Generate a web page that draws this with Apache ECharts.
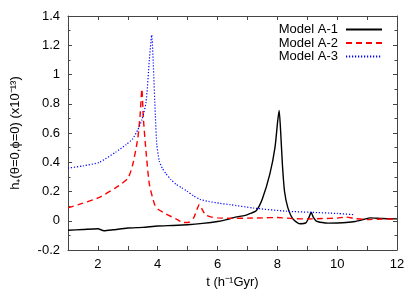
<!DOCTYPE html>
<html><head><meta charset="utf-8">
<script src="https://cdn.jsdelivr.net/npm/echarts@6/dist/echarts.min.js"></script>
<style>html,body{margin:0;padding:0;background:#fff}#c{width:420px;height:294px}</style>
</head><body><div id="c"></div>
<script>
// Model A-1 (black, solid)
const tA1 = [1, 1.5, 2, 2.2, 2.5, 3, 3.5, 4, 4.5, 5, 5.5, 6, 6.3, 6.6, 6.9, 7.1, 7.3, 7.5, 7.75, 7.92, 8.01, 8.06, 8.11, 8.17, 8.24, 8.35, 8.52, 8.75, 8.95, 9.05, 9.13, 9.2, 9.3, 9.5, 9.7, 10.0, 10.3, 10.6, 10.9, 11.1, 11.5, 12];
const hA1 = [-0.065, -0.06, -0.055, -0.068, -0.062, -0.05, -0.045, -0.036, -0.032, -0.027, -0.018, -0.005, 0.008, 0.025, 0.035, 0.05, 0.07, 0.15, 0.32, 0.50, 0.68, 0.755, 0.61, 0.38, 0.20, 0.09, 0.013, -0.021, -0.015, 0.02, 0.058, 0.025, -0.002, -0.012, -0.016, -0.015, -0.012, -0.005, 0.01, 0.02, 0.015, 0.013];
// Model A-2 (red, dashed)
const tA2 = [1, 1.5, 2.05, 2.6, 3.0, 3.16, 3.33, 3.41, 3.47, 3.52, 3.61, 3.72, 3.89, 4.0, 4.28, 4.61, 4.85, 5.05, 5.2, 5.3, 5.39, 5.48, 5.6, 5.8, 6.0, 6.5, 7.0, 7.5, 8.0, 8.5, 9.0, 9.5, 10.0, 10.3, 10.6, 11.0, 11.5, 12];
const hA2 = [0.088, 0.12, 0.16, 0.226, 0.29, 0.38, 0.56, 0.72, 0.90, 0.70, 0.47, 0.25, 0.114, 0.08, 0.046, 0.013, -0.012, -0.01, 0.02, 0.07, 0.112, 0.08, 0.04, 0.025, 0.02, 0.016, 0.018, 0.02, 0.022, 0.015, 0.012, 0.015, 0.018, 0.025, 0.015, 0.008, 0.012, 0.012];
// Model A-3 (blue, dotted)
const tA3 = [1, 1.5, 2.05, 2.6, 2.94, 3.16, 3.33, 3.47, 3.61, 3.72, 3.8, 3.85, 3.92, 3.97, 4.05, 4.15, 4.28, 4.45, 4.61, 4.8, 4.97, 5.2, 5.41, 5.7, 6.08, 6.42, 7.2, 8.31, 9.09, 10.0, 10.54];
const hA3 = [0.36, 0.375, 0.40, 0.47, 0.52, 0.56, 0.62, 0.69, 0.81, 1.10, 1.27, 1.08, 0.72, 0.52, 0.41, 0.36, 0.32, 0.28, 0.25, 0.225, 0.204, 0.17, 0.147, 0.132, 0.119, 0.11, 0.087, 0.065, 0.058, 0.05, 0.042];
const seriesNames = ['Model A-1', 'Model A-2', 'Model A-3'];
const yTicks = [-0.2, 0, 0.2, 0.4, 0.6, 0.8, 1, 1.2, 1.4];
const xTicks = [2, 4, 6, 8, 10, 12];

const zip = (a, b) => a.map((v, i) => [v, b[i]]);
const font = 'Liberation Sans, Arial, sans-serif';
const frame = '#444';
const chart = echarts.init(document.getElementById('c'), null, {renderer: 'canvas'});
const axisCommon = {
  axisLine: {show: true, onZero: false, lineStyle: {color: frame, width: 1}},
  axisTick: {show: true, inside: true, length: 4, lineStyle: {color: frame}},
  minorTick: {show: true, splitNumber: 2, length: 2.5, lineStyle: {color: frame}},
  splitLine: {show: false}
};
chart.setOption({
  animation: false,
  backgroundColor: '#fff',
  grid: {left: 68, right: 23, top: 16, bottom: 41},
  legend: {
    orient: 'vertical', right: 32, top: 18, align: 'right',
    itemWidth: 36, itemHeight: 13, itemGap: 0.5,
    itemStyle: {opacity: 0},
    textStyle: {fontSize: 13, fontFamily: font, color: '#000', lineHeight: 13, padding: [0, 3, 0, 0]},
    data: seriesNames
  },
  xAxis: [
    Object.assign({}, axisCommon, {
      type: 'value', min: 1, max: 12, interval: 1, position: 'bottom',
      minorTick: {show: false},
      axisLabel: {fontSize: 13, fontFamily: font, color: '#000', margin: 8,
        formatter: v => (xTicks.indexOf(v) >= 0 ? String(v) : '')},
      name: 't (h⁻¹Gyr)', nameLocation: 'middle', nameGap: 26,
      nameTextStyle: {fontSize: 13, fontFamily: font, color: '#000'}
    }),
    Object.assign({}, axisCommon, {
      type: 'value', min: 1, max: 12, interval: 1, position: 'top',
      minorTick: {show: false}, axisLabel: {show: false}
    })
  ],
  yAxis: [
    Object.assign({}, axisCommon, {
      type: 'value', min: -0.2, max: 1.4, interval: 0.2, position: 'left',
      axisLabel: {fontSize: 13, fontFamily: font, color: '#000', margin: 8,
        formatter: v => { const m = yTicks.find(t => Math.abs(t - v) < 1e-6); return m === undefined ? '' : String(m); }},
      name: 'h₊(θ=0,ϕ=0) (x10⁻¹³)', nameLocation: 'middle', nameGap: 46,
      nameTextStyle: {fontSize: 13, fontFamily: font, color: '#000'}
    }),
    Object.assign({}, axisCommon, {
      type: 'value', min: -0.2, max: 1.4, interval: 0.2, position: 'right',
      axisLabel: {show: false}
    })
  ],
  series: [
    {name: seriesNames[0], type: 'line', data: zip(tA1, hA1), symbol: 'none', smooth: 0.2,
      lineStyle: {color: '#000', width: 1.4, type: 'solid'}, itemStyle: {color: '#000'}},
    {name: seriesNames[1], type: 'line', data: zip(tA2, hA2), symbol: 'none', smooth: 0.2,
      lineStyle: {color: '#ff0000', width: 1.4, type: [6, 4]}, itemStyle: {color: '#ff0000'}},
    {name: seriesNames[2], type: 'line', data: zip(tA3, hA3), symbol: 'none', smooth: 0.2,
      lineStyle: {color: '#0000ff', width: 1.2, type: [1.2, 1.8]}, itemStyle: {color: '#0000ff'}}
  ]
});
</script></body></html>
